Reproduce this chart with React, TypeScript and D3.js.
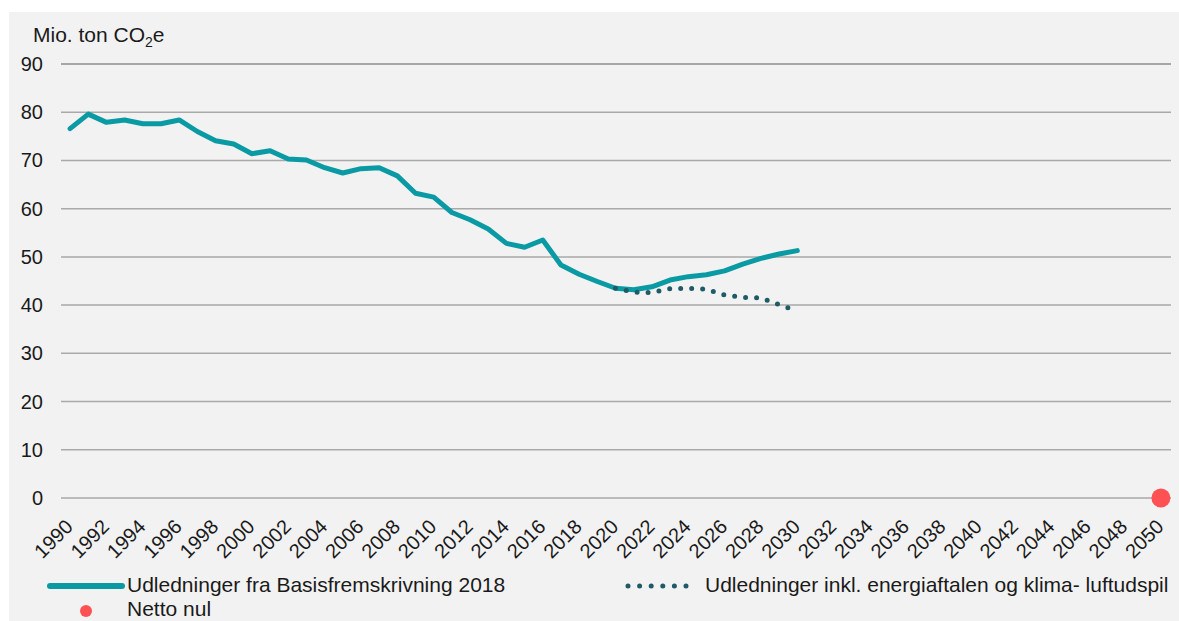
import React from "react";
import * as d3 from "d3";

const W = 1179;
const H = 621;

const categories: number[] = d3.range(1990, 2051);
const tickYears: number[] = [1990, 1992, 1994, 1996, 1998, 2000, 2002, 2004, 2006, 2008, 2010, 2012, 2014, 2016, 2018, 2020, 2022, 2024, 2026, 2028, 2030, 2032, 2034, 2036, 2038, 2040, 2042, 2044, 2046, 2048, 2050];
const yTicks: number[] = [0, 10, 20, 30, 40, 50, 60, 70, 80, 90];

const basisYears: number[] = [1990, 1991, 1992, 1993, 1994, 1995, 1996, 1997, 1998, 1999, 2000, 2001, 2002, 2003, 2004, 2005, 2006, 2007, 2008, 2009, 2010, 2011, 2012, 2013, 2014, 2015, 2016, 2017, 2018, 2019, 2020, 2021, 2022, 2023, 2024, 2025, 2026, 2027, 2028, 2029, 2030];
const basisValues: number[] = [76.6, 79.6, 77.9, 78.4, 77.6, 77.6, 78.4, 76.0, 74.1, 73.4, 71.4, 72.0, 70.3, 70.1, 68.5, 67.4, 68.3, 68.5, 66.8, 63.2, 62.4, 59.2, 57.7, 55.8, 52.8, 52.0, 53.5, 48.3, 46.4, 44.9, 43.5, 43.2, 43.8, 45.2, 45.9, 46.3, 47.1, 48.5, 49.7, 50.6, 51.3];

const policyYears: number[] = [2020, 2021, 2022, 2023, 2024, 2025, 2026, 2027, 2028, 2029, 2030];
const policyValues: number[] = [43.5, 42.7, 42.6, 43.4, 43.5, 43.3, 42.1, 41.6, 41.5, 40.1, 38.8];

const nettoYears: number[] = [2050];
const nettoValues: number[] = [0];

const seriesNames = {
  basis: "Udledninger fra Basisfremskrivning 2018",
  policy: "Udledninger inkl. energiaftalen og klima- luftudspil",
  netto: "Netto nul",
};

const TEAL = "#0a9aa4";
const DARK = "#1f5a67";
const RED = "#fd5153";
const FONT = "'Liberation Sans', Arial, sans-serif";

export default function App() {
  const x = d3.scaleBand<number>().domain(categories).range([61, 1170]).padding(0);
  const cx = (yr: number) => (x(yr) as number) + x.bandwidth() / 2;
  const y = d3.scaleLinear().domain([0, 90]).range([498, 64]);

  const line = d3
    .line<[number, number]>()
    .x((d) => cx(d[0]))
    .y((d) => y(d[1]));

  const basisPts: [number, number][] = basisYears.map((yr, i) => [yr, basisValues[i]]);
  const policyPts: [number, number][] = policyYears.map((yr, i) => [yr, policyValues[i]]);

  return (
    <div style={{ position: "fixed", left: 0, top: 0 }}>
      <svg width={W} height={H} style={{ display: "block" }} fontFamily={FONT}>
        <rect x={0} y={0} width={W} height={H} fill="#ffffff" />
        <rect x={9} y={12} width={W - 9} height={H - 12} fill="#f2f2f2" />

        {/* title */}
        <text x={33} y={42} fontSize={21} fill="#1a1a1a">
          Mio. ton CO
          <tspan fontSize={14} dy={5}>2</tspan>
          <tspan dy={-5}>e</tspan>
        </text>

        {/* gridlines + y ticks */}
        {yTicks.map((t) => (
          <g key={t}>
            <line x1={61} x2={1171} y1={y(t)} y2={y(t)} stroke={t === 90 ? "#8e8e8e" : "#a9a9a9"} strokeWidth={1.5} />
            <text x={43} y={y(t)} dy="0.35em" textAnchor="end" fontSize={20} fill="#1a1a1a">
              {t}
            </text>
          </g>
        ))}

        {/* x tick labels */}
        {tickYears.map((yr) => (
          <text
            key={yr}
            transform={`translate(${cx(yr) + 4},${528}) rotate(-45)`}
            textAnchor="end"
            fontSize={20}
            fill="#1a1a1a"
          >
            {yr}
          </text>
        ))}

        {/* series */}
        <path d={line(basisPts) || ""} fill="none" stroke={TEAL} strokeWidth={5} strokeLinejoin="round" strokeLinecap="round" />
        <path d={line(policyPts) || ""} fill="none" stroke={DARK} strokeWidth={5} strokeDasharray="0 11" strokeLinecap="round" />
        {nettoYears.map((yr, i) => (
          <circle key={yr} cx={cx(yr)} cy={y(nettoValues[i])} r={9.5} fill={RED} />
        ))}

        {/* legend */}
        <line x1={50} x2={122} y1={586} y2={586} stroke={TEAL} strokeWidth={6} strokeLinecap="round" />
        <text x={127} y={592} fontSize={21} fill="#1a1a1a">{seriesNames.basis}</text>

        <line x1={628} x2={687} y1={586} y2={586} stroke={DARK} strokeWidth={5} strokeDasharray="0 11.6" strokeLinecap="round" />
        <text x={705} y={592} fontSize={21} fill="#1a1a1a">{seriesNames.policy}</text>

        <circle cx={86} cy={611} r={6} fill={RED} />
        <text x={127} y={616} fontSize={21} fill="#1a1a1a">{seriesNames.netto}</text>
      </svg>
    </div>
  );
}
